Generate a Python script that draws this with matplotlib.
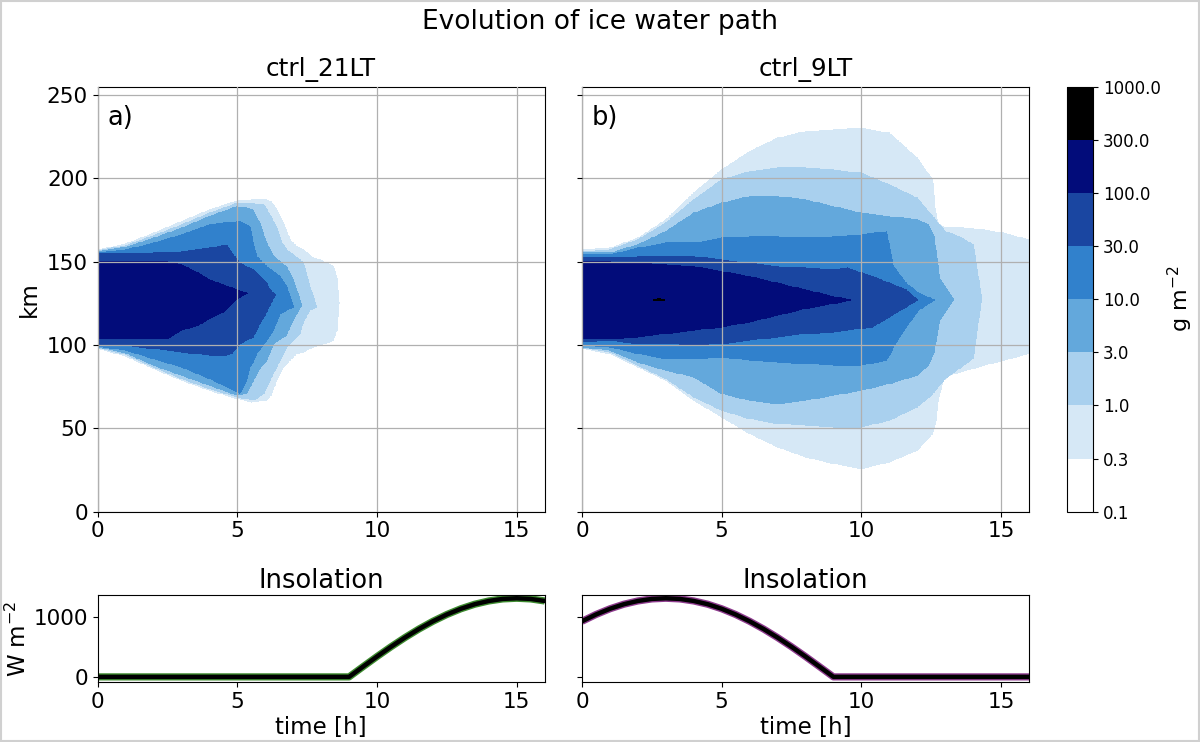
import numpy as np
import matplotlib
matplotlib.use("Agg")
import matplotlib.pyplot as plt
from matplotlib.patches import Rectangle

# contour levels of ice water path (g m-2) and the fill colour of each band
LEVELS = [0.1, 0.3, 1.0, 3.0, 10.0, 30.0, 100.0, 300.0, 1000.0]
BAND_COLORS = ["#ffffff", "#d6e8f6", "#a9d0ee", "#63a8dc", "#3181cc",
               "#1a46a1", "#020c7a", "#000000"]

# outline of each contour level:
# (time [h], upper edge [km], lower edge [km])
# panel a) ctrl_21LT
A_L03 = [(0, 157, 98), (1, 160.5, 93.5), (2, 167, 86), (3, 174, 79), (4, 181, 73),
         (5, 186.5, 68), (5.5, 187, 66), (6.05, 187, 67), (6.2, 186, 70),
         (6.41, 181, 79), (6.65, 173, 87), (6.89, 163, 91), (7.12, 159, 95),
         (7.36, 157, 96), (7.72, 152, 99), (7.96, 151, 100), (8.44, 147, 103),
         (8.56, 140, 109), (8.64, 125, 125)]
A_L1 = [(0, 156.5, 98.5), (1, 159.5, 94.5), (2, 165.5, 87), (3, 172, 80), (4, 179, 74),
        (5, 185, 69), (5.6, 184.5, 67), (5.95, 184, 71), (6.17, 178, 79),
        (6.41, 170, 87), (6.6, 161, 93), (6.77, 157, 99), (7.0, 154, 103),
        (7.24, 151, 107), (7.36, 149, 114), (7.6, 135, 121), (7.84, 123, 123)]
A_L3 = [(0, 156, 99), (1, 158.5, 95.5), (2, 164, 88), (3, 170, 82), (4, 177, 76),
        (5, 183, 70), (5.33, 182, 71), (5.55, 181, 78), (5.8, 173, 86),
        (6.05, 161, 91), (6.3, 153, 101), (6.75, 147, 106), (7.0, 139, 115),
        (7.3, 124, 124)]
A_L10 = [(0, 155.5, 99.5), (1, 157, 97), (2, 161, 92), (3, 166, 87), (4, 172, 80),
         (5, 174, 72), (5.1, 174, 71), (5.33, 172, 79), (5.45, 171, 87),
         (5.57, 161, 90), (5.69, 153, 95), (6.05, 147, 103), (6.29, 144, 109),
         (6.53, 141, 119), (6.77, 135, 121), (7.0, 123, 123)]
A_L30 = [(0, 154.5, 100.5), (1, 154.5, 100), (2, 155, 98), (3, 156, 96), (4, 158, 94),
         (4.6, 160, 94), (4.8, 155, 95), (5.1, 149, 101), (5.57, 145, 105),
         (5.81, 141, 113), (6.05, 137, 120), (6.17, 133, 124), (6.35, 130, 130)]
A_L100 = [(0, 150, 104), (2.5, 150, 104), (3.0, 148, 109), (3.6, 143, 112),
          (4.0, 139, 116), (4.5, 136, 120), (5.0, 133, 128), (5.35, 131, 131)]

# panel b) ctrl_9LT
B_L03 = [(0, 157, 98), (1, 158, 95), (2, 164, 87), (3, 175, 79), (4, 191, 67),
         (5, 205, 57), (6, 216, 47), (7, 224, 39), (8, 228, 33), (9, 229, 29),
         (10, 230, 26), (11, 227, 30), (12, 212, 37), (12.55, 199, 47),
         (12.65, 180, 53), (12.75, 172, 67), (12.95, 171, 81), (14.4, 169, 88),
         (15.1, 167, 91), (16, 163, 95)]
B_L1 = [(0, 156, 98.5), (1, 157, 96), (2, 163, 88), (3, 173, 80), (4, 187, 69),
        (5, 199, 61), (6, 204, 56), (7, 206, 53), (8, 206, 52), (9, 205, 51),
        (10, 203, 51), (11, 196, 55), (12, 188, 63), (12.5, 178, 70),
        (13, 168, 80), (13.5, 165, 86), (14, 160, 92), (14.3, 128, 128)]
B_L3 = [(0, 155, 99), (1, 155, 97), (2, 160, 90), (3, 168, 85), (4, 179, 81),
        (5, 185, 71), (6, 189, 67), (7, 189, 65), (8, 187, 67), (9, 183, 70),
        (10, 179, 73), (11, 177, 77), (12, 175, 82), (12.4, 172, 88),
        (12.6, 165, 96), (12.8, 140, 115), (13.3, 127, 127)]
B_L10 = [(0, 154, 100), (1, 154, 99), (2, 158, 95), (3, 161, 92), (4, 161, 92),
         (5, 164, 93), (6, 165, 91), (7, 165, 90), (8, 164, 89), (9, 165, 88),
         (10, 166, 88), (10.9, 168, 91), (11.05, 155, 95), (11.15, 147, 99),
         (11.6, 137, 111), (12.05, 131, 121), (12.6, 127, 127)]
B_L30 = [(0, 152, 102), (1, 152, 103), (2, 153, 101), (3, 153, 101), (4, 153, 100),
         (5, 151, 101), (6, 149, 103), (7, 147, 105), (8, 146, 107), (9, 145, 108),
         (9.5, 146, 109), (10.4, 141, 111), (11, 137, 117), (11.6, 133, 123),
         (12.0, 127, 127)]
B_L100 = [(0, 150, 104), (1, 150, 104), (2, 149, 105), (3, 148, 107), (4, 147, 109),
          (5, 144, 111), (6, 141, 114), (7, 137, 118), (8, 133, 122), (9, 129, 125),
          (9.6, 127, 127)]
B_L300 = [(2.55, 127, 127), (2.75, 127.7, 126.6), (2.95, 127, 127)]

# insolation (W m-2), read every half hour
INS_TIME = np.arange(0, 16.5, 0.5)
INS_21LT = [0, 0, 0, 0, 0, 0, 0, 0, 0, 0, 0, 0, 0, 0, 0, 0, 0, 0, 0,
            170, 338, 500, 653, 795, 923, 1036, 1131, 1207, 1261, 1295, 1306, 1295, 1261]
INS_9LT = [923, 1036, 1131, 1207, 1261, 1295, 1306, 1295, 1261, 1207, 1131, 1036,
           923, 795, 653, 500, 338, 170, 0, 0, 0, 0, 0, 0, 0, 0, 0, 0, 0, 0, 0, 0, 0]

T = np.linspace(0, 16, 801)
Y = np.arange(0, 255.25, 0.5)


def build_field(levels):
    field = np.full((Y.size, T.size), 0.15)
    for lev, nodes in levels:
        nt, top, bot = np.array(nodes, dtype=float).T
        top_i = np.interp(T, nt, top)
        bot_i = np.interp(T, nt, bot)
        in_t = (T >= nt[0]) & (T <= nt[-1])
        mask = in_t[None, :] & (Y[:, None] >= bot_i[None, :]) & (Y[:, None] <= top_i[None, :])
        field = np.where(mask, np.maximum(field, lev * 1.7), field)
    return field


field_a = build_field([(0.3, A_L03), (1, A_L1), (3, A_L3), (10, A_L10),
                       (30, A_L30), (100, A_L100)])
field_b = build_field([(0.3, B_L03), (1, B_L1), (3, B_L3), (10, B_L10),
                       (30, B_L30), (100, B_L100), (300, B_L300)])

plt.rcParams.update({"font.family": "DejaVu Sans", "xtick.labelsize": 15.5,
                     "ytick.labelsize": 15.5})

fig = plt.figure(figsize=(12, 7.42), dpi=100)
W, H = 1200.0, 742.0


def px_axes(x0, y0, x1, y1, **kw):
    return fig.add_axes([x0 / W, 1 - y1 / H, (x1 - x0) / W, (y1 - y0) / H], **kw)


ax_a = px_axes(97.7, 86.7, 544.6, 511.7)
ax_b = px_axes(582, 86.7, 1029, 511.7, sharey=ax_a)
cax = px_axes(1067, 86.7, 1093, 511.7)
ins_a = px_axes(97.7, 594.7, 544.6, 682.3)
ins_b = px_axes(582, 594.7, 1029, 682.3, sharey=ins_a)

for ax, fld, title, tag in [(ax_a, field_a, "ctrl_21LT", "a)"),
                            (ax_b, field_b, "ctrl_9LT", "b)")]:
    cf = ax.contourf(T, Y, fld, levels=LEVELS, colors=BAND_COLORS)
    ax.set_xlim(0, 16)
    ax.set_ylim(0, 255)
    ax.set_xticks([0, 5, 10, 15])
    ax.set_yticks([0, 50, 100, 150, 200, 250])
    ax.set_axisbelow(False)
    ax.grid(True, color="#b0b0b0", linewidth=0.9)
    ax.set_title(title, fontsize=17.8, pad=8)
    ax.text(0.022, 0.957, tag, transform=ax.transAxes, fontsize=18.5,
            ha="left", va="top")
ax_a.set_ylabel("km", fontsize=16.5)
plt.setp(ax_b.get_yticklabels(), visible=False)

cbar = fig.colorbar(cf, cax=cax, ticks=LEVELS)
cbar.ax.set_yticklabels([f"{v:.1f}" for v in LEVELS])
cbar.ax.tick_params(labelsize=12)
cbar.set_label("g m$^{-2}$", fontsize=16, labelpad=4)

ins_a.plot(INS_TIME, INS_21LT, color="#3d8b2f", linewidth=5.2, solid_capstyle="butt")
ins_a.plot(INS_TIME, INS_21LT, color="black", linewidth=3.2)
ins_b.plot(INS_TIME, INS_9LT, color="#8e3b8e", linewidth=5.2, solid_capstyle="butt")
ins_b.plot(INS_TIME, INS_9LT, color="black", linewidth=3.2)
for ax in (ins_a, ins_b):
    ax.set_xlim(0, 16)
    ax.set_xticks([0, 5, 10, 15])
    ax.set_title("Insolation", fontsize=18.5, pad=5)
    ax.set_xlabel("time [h]", fontsize=16.5, labelpad=3)
ins_a.set_ylim(-90, 1365)
ins_a.set_yticks([0, 1000])
ins_a.set_ylabel("W m$^{-2}$", fontsize=16.5, labelpad=2)
plt.setp(ins_b.get_yticklabels(), visible=False)

fig.suptitle("Evolution of ice water path", fontsize=19, y=0.988)
fig.patches.append(Rectangle((0.001, 0.001), 0.998, 0.998, transform=fig.transFigure,
                             fill=False, edgecolor="#d0d0d0", linewidth=1.5))

fig.savefig("out.png", dpi=100)
